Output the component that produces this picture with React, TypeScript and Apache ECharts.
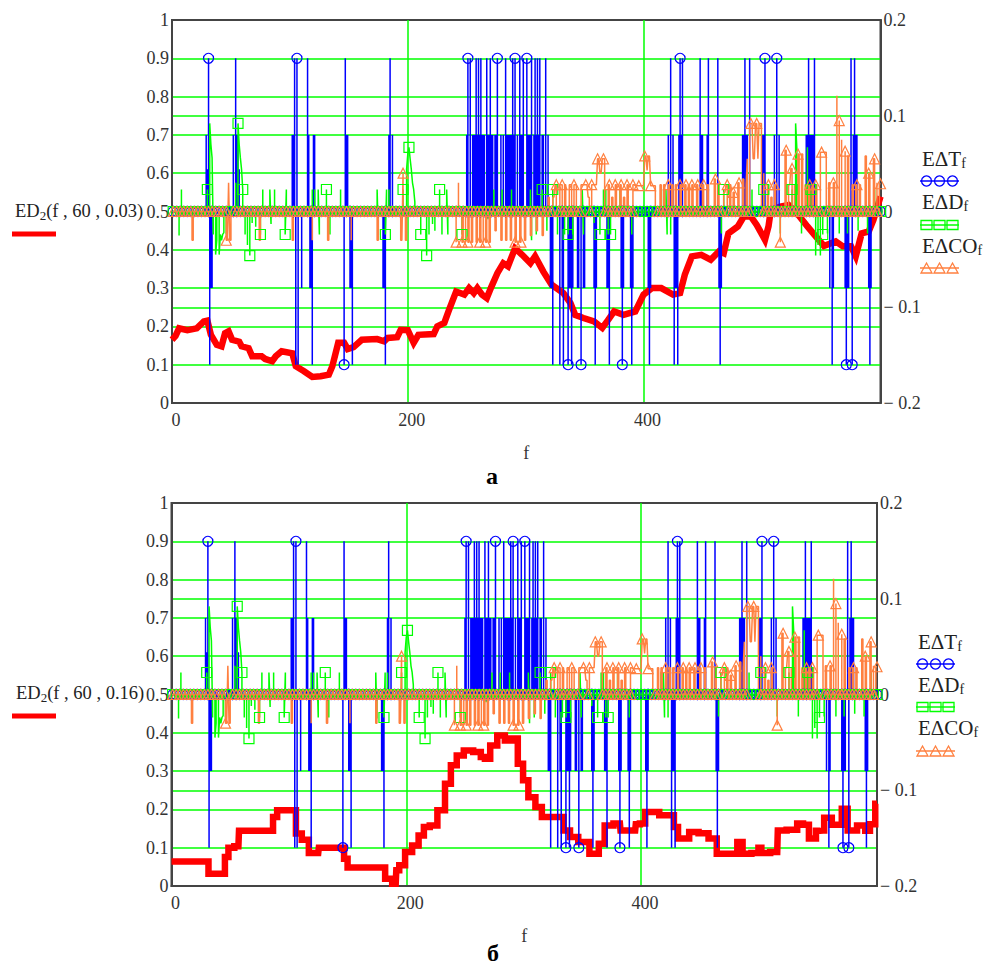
import React, { useEffect, useRef } from "react";
import * as echarts from "echarts";

const LAST_F = 601;
const xTicks = [0, 200, 400];

// ED2(f,60,0.03): [f, value]
const redA: number[][] = [[0,.165],[3,.175],[6,.195],[13,.19],[21,.195],[27,.213],[30,.215],[33,.178],[38,.152],[42,.148],[45,.182],[48,.187],[51,.165],[57,.16],[59,.148],[65,.143],[68,.122],[76,.122],[79,.115],[85,.109],[88,.122],[93,.135],[102,.13],[105,.096],[112,.083],[119,.068],[126,.07],[133,.074],[136,.096],[141,.157],[146,.157],[149,.141],[154,.146],[161,.165],[174,.167],[180,.161],[183,.17],[191,.172],[194,.191],[200,.19],[205,.157],[209,.178],[222,.18],[225,.2],[231,.209],[235,.243],[241,.291],[248,.283],[252,.3],[256,.287],[259,.3],[263,.283],[267,.274],[271,.304],[276,.339],[281,.365],[285,.357],[291,.404],[297,.387],[304,.365],[308,.383],[315,.343],[322,.309],[332,.287],[338,.261],[342,.23],[349,.222],[358,.213],[365,.196],[370,.217],[375,.239],[383,.23],[393,.239],[400,.283],[407,.3],[415,.3],[425,.283],[431,.287],[435,.335],[441,.383],[449,.387],[457,.374],[464,.396],[468,.391],[472,.443],[480,.461],[485,.487],[491,.487],[496,.465],[503,.426],[506,.461],[508,.504],[516,.513],[523,.517],[530,.496],[539,.461],[545,.439],[553,.41],[563,.422],[569,.409],[576,.409],[580,.383],[585,.443],[591,.448],[595,.478],[601,.539]];

// ED2(f,60,0.16): [f, value]
const redB: number[][] = [[0,.064],[30,.064],[33,.032],[44,.032],[47,.076],[50,.1],[57,.104],[58,.144],[85,.144],[88,.18],[92,.198],[105,.198],[107,.137],[115,.121],[119,.086],[125,.086],[126,.1],[146,.1],[148,.071],[152,.048],[179,.048],[185,.019],[191,.006],[192,.041],[196,.054],[202,.089],[208,.106],[213,.132],[217,.154],[223,.158],[230,.198],[236,.267],[240,.315],[246,.341],[252,.354],[262,.35],[265,.337],[269,.332],[274,.367],[281,.393],[287,.38],[292,.385],[298,.319],[301,.276],[307,.232],[313,.206],[318,.18],[331,.18],[337,.145],[342,.128],[351,.115],[361,.084],[367,.11],[371,.158],[382,.163],[383,.145],[395,.145],[396,.161],[402,.163],[405,.193],[426,.185],[430,.154],[433,.124],[440,.124],[442,.141],[456,.138],[459,.124],[463,.124],[466,.084],[480,.084],[484,.115],[489,.084],[499,.086],[501,.1],[504,.086],[516,.089],[517,.145],[531,.147],[535,.163],[541,.16],[545,.124],[548,.124],[550,.144],[555,.145],[557,.178],[568,.16],[574,.202],[578,.145],[590,.158],[592,.144],[598,.161],[601,.215]];

// EΔT: f positions of the spikes, per level
const tempUp16 = [31,54,104,106,115,119,147,185,251,253,258,260,262,267,270,276,283,289,291,295,298,301,305,308,310,312,317,423,431,433,448,455,463,486,490,503,513,540,545,576,579];
const tempUp8 = [29,52,55,56,102,103,116,117,120,121,148,149,184,187,250,255,256,257,259,261,263,264,265,268,269,271,272,274,275,279,281,284,285,286,287,288,290,293,296,297,302,303,304,307,309,311,314,315,319,421,425,429,430,432,449,450,454,455,484,485,487,488,501,502,511,515,538,539,541,542,543,544,578,580,581];
const tempUp4 = [30,32,33,57];
const tempDown16 = [32,105,107,119,146,153,181,323,329,332,336,339,347,359,371,382,390,405,426,429,465,560,572,577,592];
const tempDown8 = [33,34,110,117,118,151,152,179,180,321,322,331,337,338,340,344,345,349,350,358,360,369,370,381,383,389,391,404,406,427,428,464,466,558,561,571,573,574,591,593];
const tempCircles = [31,106,146,251,276,291,301,336,347,382,431,503,513,572,577];

// EΔD: [f, value]
const dust: number[][] = [[6,-.025],[8,.023],[30,.023],[32,.092],[33,.07],[34,.056],[35,-.024],[37,-.045],[38,-.03],[40,-.045],[41,-.024],[42,-.03],[43,-.024],[44,-.022],[46,-.024],[54,.03],[56,.092],[57,.07],[58,.056],[59,.044],[60,.023],[62,-.024],[64,-.035],[66,-.046],[68,-.012],[71,-.016],[75,-.024],[77,.023],[84,-.013],[83,.023],[87,.023],[96,-.024],[97,.023],[119,.023],[121,.023],[124,.023],[125,-.024],[131,.023],[134,-.024],[143,.023],[174,.023],[175,-.025],[181,-.024],[182,.023],[184,.023],[196,.023],[199,.044],[200,.06],[201,.067],[202,.055],[203,.044],[204,.03],[205,.023],[206,.01],[211,-.024],[216,-.046],[218,-.024],[221,-.013],[223,-.02],[227,.023],[229,-.024],[233,.023],[234,-.024],[246,-.024],[268,-.008],[273,.023],[280,.023],[288,.023],[304,.023],[305,-.03],[309,-.024],[314,.023],[318,-.02],[323,.023],[327,-.024],[333,-.024],[336,-.024],[340,-.024],[348,.023],[349,-.024],[358,-.012],[363,-.024],[366,.023],[368,.023],[370,-.024],[372,-.024],[380,.023],[390,-.024],[417,.023],[419,.023],[420,-.024],[423,-.024],[466,-.023],[468,.023],[492,.023],[502,.023],[516,-.023],[526,.023],[529,.092],[530,.067],[534,-.023],[539,.067],[542,.023],[546,-.046],[548,-.035],[550,-.046],[552,-.024],[556,-.023],[566,-.023],[573,-.023],[582,-.02],[590,-.023],[596,.023]];
const dustSquares = [30,36,56,60,66,75,96,131,181,196,201,211,216,227,246,314,323,336,363,372,468,502,526,542,552];

// EΔCO: [first f, last f, value]
const coPulses: number[][] = [[17,18,-.03],[46,47,-.03],[48,48,.03],[49,50,-.03],[74,75,-.03],[102,103,-.03],[119,119,-.03],[132,133,-.03],[152,152,-.03],[174,175,-.03],[194,195,-.03],[196,196,.04],[198,199,-.03],[241,241,-.032],[243,243,.03],[246,247,-.032],[249,249,-.032],[251,252,-.032],[254,255,-.032],[258,259,-.032],[261,262,-.032],[264,264,-.032],[266,267,-.032],[269,270,-.032],[274,275,-.02],[279,280,-.03],[283,284,-.03],[287,288,-.03],[291,292,-.032],[295,296,-.032],[299,300,-.03],[304,305,-.025],[309,310,-.02],[314,315,-.025],[319,320,.015],[323,324,.015],[325,326,.028],[329,331,.028],[333,334,.028],[337,339,.028],[341,343,.028],[347,349,.028],[350,352,.028],[353,354,.015],[356,357,.028],[358,360,.028],[361,362,.055],[363,364,.04],[365,367,.055],[370,371,.028],[373,374,.015],[376,377,.028],[380,381,.028],[383,384,.015],[386,387,.028],[391,392,.028],[393,400,.027],[401,402,.058],[403,403,.043],[404,405,.058],[406,410,.027],[414,415,.028],[417,418,.028],[421,422,.028],[424,425,.028],[427,428,.028],[431,432,.028],[435,436,.028],[438,439,.028],[441,442,.028],[445,446,.028],[450,451,.028],[454,455,.028],[460,461,.034],[463,464,.028],[468,469,.02],[470,471,.028],[473,474,.028],[476,477,.02],[480,481,.03],[484,485,.034],[487,487,.028],[488,488,.055],[490,492,.092],[493,494,.055],[495,496,.092],[497,497,.055],[498,500,.092],[502,502,.04],[505,506,.028],[508,509,.015],[511,512,.028],[516,516,-.032],[520,521,.064],[523,524,.028],[525,526,.045],[528,528,.028],[531,532,.06],[534,535,.06],[537,538,.028],[540,541,.028],[543,544,.028],[546,547,.028],[550,552,.062],[553,555,.062],[557,558,.03],[561,562,.03],[564,564,.121],[566,566,.095],[568,568,.075],[571,571,.063],[573,574,.058],[577,578,.028],[580,581,.028],[583,584,.028],[588,589,.058],[591,592,.04],[595,596,.055],[598,598,.03],[600,601,.029]];

const BLUE = "#0000ff";
const GREEN = "#00ff00";
const ORANGE = "#ff8040";
const RED = "#ff0000";
const AXIS = "#444444";
const FONT = "'Liberation Serif'";

const samples = () => Array.from({ length: LAST_F + 1 }, () => 0);

// the traces return to zero vertically: every excursion starts and ends with a point at its own f
function withEdges(s: number[], isolate: boolean) {
  const out: number[][] = [];
  s.forEach((v, f) => {
    if (v === 0) {
      out.push([f, 0]);
      return;
    }
    if (isolate || s[f - 1] === 0 || f === 0) out.push([f, 0]);
    out.push([f, v]);
    if (isolate || s[f + 1] === 0) out.push([f, 0]);
  });
  return out;
}

function tempSeries() {
  const s = samples();
  const put = (fs: number[], v: number) => fs.forEach((f) => (s[f] = v));
  put(tempUp4, 0.044);
  put(tempUp8, 0.08);
  put(tempDown8, -0.08);
  put(tempUp16, 0.16);
  put(tempDown16, -0.16);
  return withEdges(s, true);
}
function dustSeries() {
  const s = samples();
  dust.forEach(([f, v]) => (s[f] = v));
  return withEdges(s, false);
}
function coSeries() {
  const s = samples();
  coPulses.forEach(([a, b, v]) => {
    for (let f = a; f <= b; f++) s[f] = v;
  });
  return withEdges(s, false);
}

const onBand = (f: number) => f % 3 === 1;
const onPulse = (f: number) => f % 5 === 1;

function traceSeries(axis: number, yIndex: number) {
  const common = {
    type: "line",
    xAxisIndex: axis,
    yAxisIndex: yIndex,
    showSymbol: true,
    showAllSymbol: true,
    silent: true,
    emphasis: { disabled: true },
  };
  const hollow = (c: string) => ({ color: "transparent", borderColor: c, borderWidth: 1.2, opacity: 1 });
  return [
    {
      ...common,
      name: "EΔT",
      data: tempSeries(),
      lineStyle: { color: BLUE, width: 1.5 },
      itemStyle: hollow(BLUE),
      symbol: (v: number[]) => ((v[1] === 0 ? onBand(v[0]) : tempCircles.includes(v[0])) ? "circle" : "none"),
      symbolSize: 10,
    },
    {
      ...common,
      name: "EΔD",
      data: dustSeries(),
      lineStyle: { color: GREEN, width: 1.5 },
      itemStyle: hollow(GREEN),
      symbol: (v: number[]) => ((v[1] === 0 ? onBand(v[0]) : dustSquares.includes(v[0])) ? "rect" : "none"),
      symbolSize: 10,
    },
    {
      ...common,
      name: "EΔCO",
      data: coSeries(),
      lineStyle: { color: ORANGE, width: 1.5 },
      itemStyle: hollow(ORANGE),
      symbol: (v: number[]) => ((v[1] === 0 ? onBand(v[0]) : onPulse(v[0])) ? "triangle" : "none"),
      symbolSize: 10,
    },
  ];
}

function redSeries(axis: number, yIndex: number, data: number[][], step: string | false) {
  return {
    type: "line",
    xAxisIndex: axis,
    yAxisIndex: yIndex,
    data,
    step,
    showSymbol: false,
    silent: true,
    lineStyle: { color: RED, width: 6.5, join: "miter" },
  };
}

const sub = (t: string, s: string) => `{a|${t}}{b|${s}}`;
const textRich = {
  a: { fontFamily: FONT, fontSize: 21, color: "#222" },
  b: { fontFamily: FONT, fontSize: 14, color: "#222", verticalAlign: "bottom", padding: [9, 0, 0, 0] },
  c: { fontFamily: FONT, fontSize: 18.5, color: "#222" },
  d: { fontFamily: FONT, fontSize: 13, color: "#222", verticalAlign: "bottom", padding: [8, 0, 0, 0] },
};

function legendText(x: number, y: number, text: string) {
  return {
    type: "text",
    x,
    y,
    z: 10,
    style: { text, rich: textRich, verticalAlign: "middle", fill: "#222", font: `18px ${FONT}` },
  };
}

function keyRow(x: number, y: number, color: string, kind: string) {
  const items: any[] = [
    { type: "line", z: 10, shape: { x1: x, y1: y, x2: x + 39, y2: y }, style: { stroke: color, lineWidth: 1.3 } },
  ];
  [6.5, 19.5, 32.5].forEach((dx) => {
    const cx = x + dx;
    const s = { stroke: color, fill: "none", lineWidth: 1.3 };
    if (kind === "circle") items.push({ type: "circle", z: 10, shape: { cx, cy: y, r: 5 }, style: s });
    if (kind === "rect") items.push({ type: "rect", z: 10, shape: { x: cx - 5.5, y: y - 4.5, width: 11, height: 9 }, style: s });
    if (kind === "tri")
      items.push({ type: "polygon", z: 10, shape: { points: [[cx, y - 5], [cx + 5.5, y + 5], [cx - 5.5, y + 5]] }, style: s });
  });
  return items;
}

function panelDecor(o: {
  label: string; labelX: number; labelY: number; barX: number; barY: number; barW: number;
  lx: number; rows: number[]; mx: number; letter: string; letterX: number; letterY: number;
}) {
  return [
    legendText(o.labelX, o.labelY, o.label),
    { type: "rect", z: 10, shape: { x: o.barX, y: o.barY - 2.5, width: o.barW, height: 5 }, style: { fill: RED } },
    legendText(o.lx, o.rows[0], sub("EΔT", "f")),
    ...keyRow(o.mx, o.rows[1], BLUE, "circle"),
    legendText(o.lx, o.rows[2], sub("EΔD", "f")),
    ...keyRow(o.mx, o.rows[3], GREEN, "rect"),
    legendText(o.lx, o.rows[4], sub("EΔCO", "f")),
    ...keyRow(o.mx, o.rows[5], ORANGE, "tri"),
    {
      type: "text", z: 10, x: o.letterX, y: o.letterY,
      style: { text: o.letter, fill: "#000", font: `bold 24px ${FONT}`, align: "center", verticalAlign: "middle" },
    },
  ];
}

const labelBase = { color: "#333", fontFamily: FONT, fontSize: 18 };
const gridLine = { lineStyle: { color: GREEN, width: 1.5 } };

function xAxis(gridIndex: number) {
  return {
    type: "value", gridIndex, min: 0, max: LAST_F,
    axisLine: { show: true, onZero: false, lineStyle: { color: AXIS, width: 2 } },
    axisTick: { show: false, customValues: xTicks },
    axisLabel: { ...labelBase, margin: 8, padding: [0, 0, 0, 8], customValues: xTicks },
    splitLine: { show: true, showMinLine: false, showMaxLine: true, ...gridLine },
    name: "f", nameLocation: "middle", nameGap: 41,
    nameTextStyle: { ...labelBase },
  };
}
function leftAxis(gridIndex: number) {
  return {
    type: "value", gridIndex, position: "left", min: 0, max: 1, interval: 0.1,
    axisLine: { show: true, onZero: false, lineStyle: { color: AXIS, width: 2 } },
    axisTick: { show: false },
    axisLabel: { ...labelBase, margin: 3, padding: [5, 0, 0, 0], formatter: (v: number) => String(+v.toFixed(1)) },
    splitLine: { show: true, showMinLine: false, showMaxLine: false, ...gridLine },
  };
}
function rightAxis(gridIndex: number) {
  return {
    type: "value", gridIndex, position: "right", min: -0.2, max: 0.2, interval: 0.1,
    axisLine: { show: true, onZero: false, lineStyle: { color: AXIS, width: 2 } },
    axisTick: { show: false },
    axisLabel: {
      ...labelBase, margin: 3, padding: [5, 0, 0, 0],
      formatter: (v: number) => (v < 0 ? `− ${Math.abs(+v.toFixed(1))}` : String(+v.toFixed(1))),
    },
    splitLine: { show: true, showMinLine: false, showMaxLine: false, ...gridLine },
  };
}

export default function App() {
  const ref = useRef<HTMLDivElement>(null);
  useEffect(() => {
    const chart = echarts.init(ref.current!, undefined, { renderer: "svg" });
    chart.setOption({
      animation: false,
      backgroundColor: "#ffffff",
      grid: [
        { left: 172, top: 20, width: 708.5, height: 383, show: true, borderColor: AXIS, borderWidth: 2, backgroundColor: "#fff" },
        { left: 171.5, top: 503, width: 705.5, height: 383, show: true, borderColor: AXIS, borderWidth: 2, backgroundColor: "#fff" },
      ],
      xAxis: [xAxis(0), xAxis(1)],
      yAxis: [leftAxis(0), rightAxis(0), leftAxis(1), rightAxis(1)],
      series: [
        redSeries(0, 0, redA, false),
        ...traceSeries(0, 1),
        redSeries(1, 2, redB, "middle"),
        ...traceSeries(1, 3),
      ],
      graphic: [
        ...panelDecor({
          label: "{c|ED}{d|2}{c|(f , 60 , 0.03)}", labelX: 15, labelY: 211, barX: 12, barY: 234, barW: 44,
          lx: 922, rows: [159, 181, 202, 225, 246, 268], mx: 920, letter: "а", letterX: 492, letterY: 476,
        }),
        ...panelDecor({
          label: "{c|ED}{d|2}{c|(f , 60 , 0.16)}", labelX: 16, labelY: 693, barX: 12, barY: 716, barW: 44,
          lx: 918, rows: [642, 664, 685, 707, 728, 751], mx: 916, letter: "б", letterX: 493, letterY: 953,
        }),
      ],
    });
    return () => chart.dispose();
  }, []);
  return <div ref={ref} style={{ position: "fixed", left: 0, top: 0, width: 984, height: 968 }} />;
}
